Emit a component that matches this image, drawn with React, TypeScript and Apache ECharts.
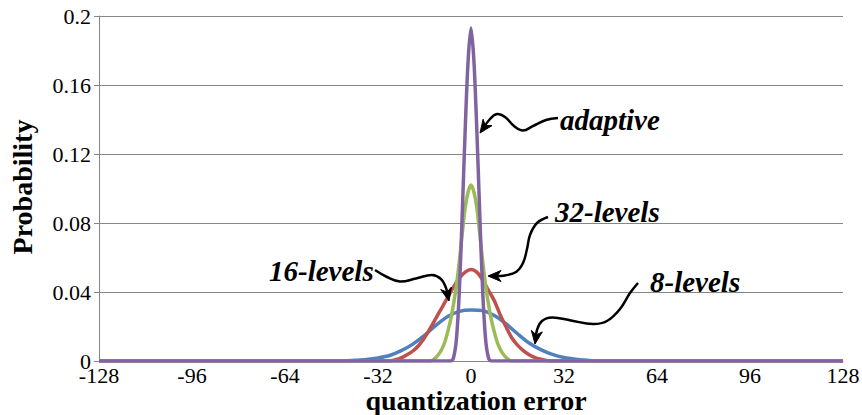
import React, { useEffect, useRef } from "react";
import * as echarts from "echarts";

// ---- data ----
const X_MIN = -128;
const X_MAX = 128;
const X_STEP = 32;
const Y_MIN = 0;
const Y_MAX = 0.2;
const Y_STEP = 0.04;

const seriesNames = ["8-levels", "16-levels", "32-levels", "adaptive"];

const errors8 = [-128, -44, -40, -36, -32, -28, -24, -20, -16, -12, -8, -4, 0, 4, 8, 12, 16, 20, 24, 28, 32, 36, 40, 44, 128];
const prob8 = [0, 0, 0.0004, 0.0009, 0.0018, 0.0032, 0.006, 0.0098, 0.0148, 0.0208, 0.0258, 0.0288, 0.0296, 0.0292, 0.0264, 0.0216, 0.0158, 0.0104, 0.0066, 0.0038, 0.002, 0.001, 0.0004, 0, 0];

const errors16 = [-128, -28, -26, -24, -22, -20, -18, -16, -14, -12, -10, -8, -6, -4, -2, 0, 2, 4, 6, 8, 10, 12, 14, 16, 18, 20, 22, 24, 26, 28, 128];
const prob16 = [0, 0, 0.0007, 0.0018, 0.0036, 0.0058, 0.009, 0.0135, 0.019, 0.025, 0.031, 0.037, 0.043, 0.048, 0.0515, 0.053, 0.0515, 0.047, 0.041, 0.035, 0.027, 0.02, 0.0135, 0.0092, 0.006, 0.0036, 0.002, 0.001, 0.0003, 0, 0];

const errors32 = [-128, -14, -13, -12, -11, -10, -9, -8, -7, -6, -5, -4, -3, -2, -1, 0, 1, 2, 3, 4, 5, 6, 7, 8, 9, 10, 11, 12, 13, 14, 128];
const prob32 = [0, 0, 0.0008, 0.0022, 0.0042, 0.007, 0.011, 0.017, 0.024, 0.033, 0.044, 0.058, 0.074, 0.089, 0.098, 0.102, 0.098, 0.089, 0.074, 0.058, 0.044, 0.033, 0.024, 0.017, 0.011, 0.007, 0.0042, 0.0022, 0.0008, 0, 0];

const errorsAdaptive = [-128, -7, -6, -5, -4, -3, -2, -1, 0, 1, 2, 3, 4, 5, 6, 7, 128];
const probAdaptive = [0, 0, 0.002, 0.013, 0.041, 0.086, 0.134, 0.174, 0.193, 0.174, 0.134, 0.086, 0.041, 0.013, 0.002, 0, 0];

const seriesErrors = [errors8, errors16, errors32, errorsAdaptive];
const seriesProbs = [prob8, prob16, prob32, probAdaptive];
const seriesColors = ["#4F81BD", "#C0504D", "#9BBB59", "#8064A2"];

const xTitle = "quantization error";
const yTitle = "Probability";

// ---- annotation drawing helpers ----
const SERIF = '"Liberation Serif", "Times New Roman", serif';

function arrowHead(tx: number, ty: number, fx: number, fy: number) {
  const dx = tx - fx;
  const dy = ty - fy;
  const len = Math.sqrt(dx * dx + dy * dy);
  const ux = dx / len;
  const uy = dy / len;
  const nx = -uy;
  const ny = ux;
  const L = 13;
  const W = 5.5;
  return [
    [tx, ty],
    [tx - L * ux + W * nx, ty - L * uy + W * ny],
    [tx - L * 0.7 * ux, ty - L * 0.7 * uy],
    [tx - L * ux - W * nx, ty - L * uy - W * ny],
  ];
}

function arrow(points: number[][], tip: number[]) {
  const last = points[points.length - 1];
  return [
    {
      type: "polyline",
      shape: { points: [...points, [tip[0] - (tip[0] - last[0]) * 0.35, tip[1] - (tip[1] - last[1]) * 0.35]], smooth: 0.4 },
      style: { stroke: "#000", lineWidth: 2.5, fill: null },
      z: 100,
    },
    {
      type: "polygon",
      shape: { points: arrowHead(tip[0], tip[1], last[0], last[1]) },
      style: { fill: "#000", stroke: "#000", lineWidth: 1 },
      z: 100,
    },
  ];
}

function label(text: string, x: number, y: number) {
  return {
    type: "text",
    x,
    y,
    z: 100,
    style: {
      text,
      fill: "#000",
      fontSize: 29,
      fontStyle: "italic",
      fontWeight: "bold",
      fontFamily: SERIF,
      align: "left",
      verticalAlign: "middle",
    },
  };
}

export default function App() {
  const ref = useRef<HTMLDivElement>(null);

  useEffect(() => {
    if (!ref.current) return;
    const chart = echarts.init(ref.current, null, { renderer: "svg" });

    const graphic: any[] = [
      label("adaptive", 560, 120),
      ...arrow(
        [
          [558, 118],
          [546, 120],
          [533, 126],
          [523, 130.5],
          [514, 126],
          [505, 117],
          [497, 114],
          [490, 119],
        ],
        [480, 133]
      ),
      label("32-levels", 555, 212),
      ...arrow(
        [
          [548, 217],
          [537, 223],
          [530, 235],
          [527, 249],
          [523, 263],
          [516, 272],
          [505, 275.5],
          [499, 276],
        ],
        [488, 276]
      ),
      label("16-levels", 269, 271),
      ...arrow(
        [
          [375, 270],
          [387, 277],
          [400, 281.5],
          [416, 278.5],
          [432, 275],
          [441, 279],
          [446, 288],
        ],
        [449, 301]
      ),
      label("8-levels", 650, 282),
      ...arrow(
        [
          [638, 283],
          [630, 293],
          [620, 309],
          [607, 321],
          [593, 324],
          [571, 320.5],
          [552, 317.5],
          [542, 321],
          [537, 330],
        ],
        [535, 344]
      ),
      {
        type: "text",
        x: 476,
        y: 400,
        z: 100,
        style: {
          text: xTitle,
          fill: "#000",
          fontSize: 28,
          lineHeight: 20,
          fontWeight: "bold",
          fontFamily: SERIF,
          align: "center",
          verticalAlign: "middle",
        },
      },
      {
        type: "text",
        x: 22,
        y: 187,
        rotation: Math.PI / 2,
        z: 100,
        style: {
          text: yTitle,
          fill: "#000",
          fontSize: 28,
          fontWeight: "bold",
          fontFamily: SERIF,
          align: "center",
          verticalAlign: "middle",
        },
      },
    ];

    const option: any = {
      animation: false,
      backgroundColor: "#fff",
      grid: { left: 99, right: 19, top: 16, bottom: 54, containLabel: false, outerBoundsMode: "none" },
      xAxis: {
        type: "value",
        min: X_MIN,
        max: X_MAX,
        interval: X_STEP,
        axisLine: { show: true, onZero: false, lineStyle: { color: "#868686", width: 1 } },
        axisTick: { show: false },
        splitLine: { show: false },
        axisLabel: { color: "#000", fontSize: 22, lineHeight: 14, fontFamily: SERIF, margin: 7, showMinLabel: true, showMaxLabel: true, hideOverlap: false },
      },
      yAxis: {
        type: "value",
        min: Y_MIN,
        max: Y_MAX,
        interval: Y_STEP,
        axisLine: { show: true, onZero: false, lineStyle: { color: "#868686", width: 1 } },
        axisTick: { show: true, inside: false, length: 5, lineStyle: { color: "#868686" } },
        splitLine: { show: true, lineStyle: { color: "#868686", width: 1 } },
        axisLabel: { color: "#000", fontSize: 22, lineHeight: 14, fontFamily: SERIF, margin: 8, showMinLabel: true, showMaxLabel: true, hideOverlap: false },
      },
      series: seriesNames.map((name, i) => ({
        name,
        type: "line",
        data: seriesErrors[i].map((e, j) => [e, seriesProbs[i][j]]),
        symbol: "none",
        smooth: 0.3,
        lineStyle: { color: seriesColors[i], width: 3.5 },
        itemStyle: { color: seriesColors[i] },
        z: 2 + i,
      })),
      graphic,
    };

    chart.setOption(option);
    return () => chart.dispose();
  }, []);

  return (
    <div
      ref={ref}
      style={{ position: "absolute", left: 0, top: 0, width: 862, height: 415, background: "#fff" }}
    />
  );
}
